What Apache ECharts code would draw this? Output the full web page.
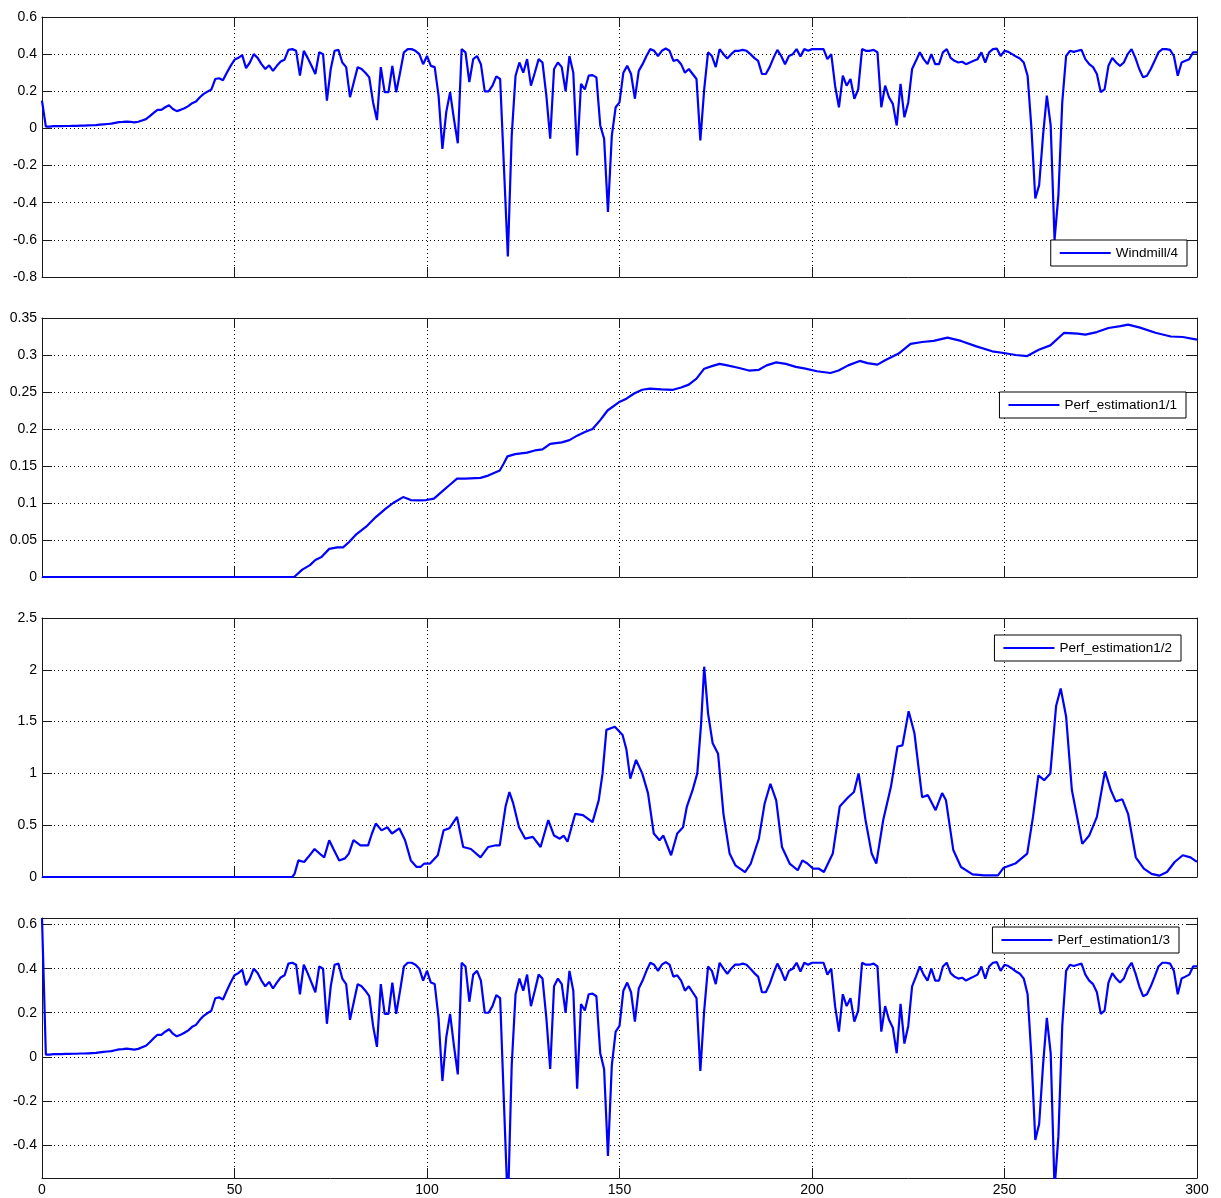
<!DOCTYPE html>
<html>
<head>
<meta charset="utf-8">
<script src="https://cdn.jsdelivr.net/npm/echarts@6/dist/echarts.min.js"></script>
<style>
  html, body { margin: 0; padding: 0; background: #fff; }
  #chart { width: 1221px; height: 1198px; }
</style>
</head>
<body>
<div id="chart"></div>
<script>
// ---------- DATA ----------
// Windmill/4, sampled every 1 s from t = 0 to t = 300
const windmill = [
  0.15,0.01,0.01,0.012,0.012,0.012,0.013,0.013,0.014,0.014,
  0.015,0.015,0.016,0.017,0.018,0.02,0.022,0.024,0.026,0.03,
  0.034,0.035,0.037,0.035,0.033,0.036,0.043,0.05,0.066,0.084,
  0.1,0.1,0.114,0.125,0.105,0.093,0.1,0.109,0.12,0.136,
  0.145,0.168,0.186,0.198,0.21,0.266,0.27,0.26,0.3,0.337,
  0.37,0.38,0.395,0.325,0.355,0.4,0.38,0.346,0.32,0.34,
  0.31,0.337,0.36,0.37,0.423,0.427,0.418,0.284,0.418,0.38,
  0.337,0.293,0.41,0.4,0.15,0.32,0.418,0.423,0.355,0.33,
  0.168,0.25,0.33,0.32,0.3,0.275,0.14,0.045,0.33,0.195,
  0.195,0.337,0.195,0.3,0.41,0.427,0.427,0.418,0.4,0.346,
  0.39,0.337,0.33,0.177,-0.11,0.088,0.195,0.05,-0.08,0.427,
  0.41,0.25,0.373,0.39,0.346,0.2,0.2,0.23,0.28,0.266,
  -0.216,-0.69,-0.04,0.284,0.355,0.3,0.373,0.23,0.3,0.373,
  0.355,0.177,-0.055,0.32,0.355,0.33,0.2,0.39,0.3,-0.145,
  0.24,0.21,0.284,0.287,0.275,0.016,-0.055,-0.45,-0.04,0.114,
  0.14,0.3,0.337,0.293,0.16,0.31,0.346,0.39,0.427,0.418,
  0.39,0.418,0.43,0.418,0.364,0.37,0.346,0.3,0.32,0.293,
  0.266,-0.064,0.21,0.41,0.39,0.33,0.427,0.4,0.377,0.4,
  0.418,0.418,0.423,0.418,0.4,0.38,0.364,0.293,0.293,0.33,
  0.38,0.423,0.39,0.346,0.39,0.4,0.427,0.387,0.427,0.418,
  0.427,0.427,0.427,0.427,0.373,0.4,0.23,0.114,0.284,0.23,
  0.266,0.16,0.21,0.427,0.418,0.418,0.423,0.41,0.114,0.23,
  0.168,0.132,0.016,0.24,0.06,0.14,0.32,0.364,0.41,0.373,
  0.346,0.4,0.346,0.346,0.41,0.427,0.38,0.364,0.355,0.359,
  0.346,0.355,0.364,0.373,0.41,0.355,0.41,0.427,0.43,0.39,
  0.418,0.412,0.4,0.387,0.377,0.355,0.284,0,-0.377,-0.305,
  -0.04,0.177,0.016,-0.6,-0.36,0.14,0.39,0.418,0.412,0.418,
  0.423,0.373,0.346,0.33,0.293,0.195,0.21,0.337,0.38,0.355,
  0.337,0.355,0.4,0.427,0.38,0.32,0.275,0.284,0.32,0.364,
  0.41,0.427,0.427,0.423,0.39,0.284,0.355,0.364,0.373,0.41,
  0.41
];
// Perf_estimation1/3 shows the same signal, except the start value at t = 0
const perf3Start = 0.63;

// Perf_estimation1/1 as [t, value]
const perf1 = [
  [0,0],[65.5,0],[67.6,0.01],[69.6,0.016],[71,0.023],[72.6,0.027],[74.6,0.038],[76.7,0.04],[78.2,0.04],
  [79.7,0.047],[81.7,0.058],[84.2,0.068],[86.7,0.081],[89.2,0.092],[91.2,0.1],[93.8,0.108],[95.8,0.104],
  [97.8,0.1036],[99.8,0.104],[101.8,0.106],[103.8,0.115],[105.8,0.124],[107.8,0.133],[109.9,0.133],
  [113.9,0.134],[115.9,0.137],[118.9,0.144],[119.9,0.153],[120.9,0.163],[122.9,0.166],[126,0.168],
  [128,0.171],[130,0.1725],[132,0.18],[135,0.182],[137,0.185],[139,0.191],[141,0.196],[143,0.2],
  [145,0.212],[146.9,0.225],[149.8,0.236],[151.8,0.241],[153.8,0.248],[155.9,0.253],[157.9,0.2545],
  [160.9,0.2536],[163.9,0.253],[166,0.256],[168,0.26],[170,0.268],[172,0.2815],[174,0.285],[176,0.288],
  [178,0.286],[181.1,0.2824],[183.6,0.279],[186.2,0.28],[188.2,0.286],[190.7,0.29],[193.2,0.288],
  [195.8,0.284],[198.3,0.2815],[201.3,0.278],[204.8,0.2757],[206.9,0.279],[209.4,0.286],[212.4,0.292],
  [214.4,0.289],[217,0.287],[219,0.293],[222.5,0.302],[225.6,0.315],[228.6,0.3176],[231.6,0.319],
  [235.2,0.3234],[238.7,0.319],[242.7,0.3117],[246.8,0.305],[249.8,0.3027],[252.9,0.3],[255.9,0.2986],
  [258.9,0.307],[261.9,0.313],[265.5,0.33],[269,0.329],[271,0.3275],[274,0.331],[277,0.3365],
  [280.1,0.339],[282.1,0.341],[285.2,0.337],[289.2,0.33],[293.2,0.325],[296.3,0.3243],[300,0.3207]
];

// Perf_estimation1/2 as [t, value]
const perf2 = [
  [0,0],[65,0],[65.6,0.03],[66.6,0.16],[68.1,0.145],[69.1,0.19],[70.8,0.27],[72.6,0.21],[73.3,0.19],
  [74.6,0.355],[75.7,0.27],[77.2,0.16],[78.7,0.18],[79.7,0.226],[80.9,0.355],[82.7,0.306],[84.7,0.306],
  [85.7,0.42],[86.7,0.516],[88.2,0.45],[89.7,0.48],[90.9,0.42],[92.8,0.47],[94.3,0.355],[95.8,0.16],
  [97.3,0.097],[98.3,0.097],[99.3,0.13],[100.8,0.13],[102.8,0.21],[104.3,0.45],[105.8,0.47],[107.8,0.58],
  [109.4,0.29],[111.4,0.27],[113.9,0.19],[115.9,0.29],[117.9,0.306],[118.9,0.306],[120.4,0.68],
  [121.4,0.82],[122.4,0.71],[123.9,0.48],[125.5,0.37],[127.5,0.387],[129.5,0.29],[131.5,0.55],[133,0.4],
  [134.5,0.37],[135.5,0.4],[136.5,0.34],[138.5,0.61],[140.5,0.597],[143,0.53],[144.6,0.74],[145.6,1.0],
  [146.6,1.42],[148.8,1.45],[150.8,1.37],[151.8,1.23],[152.8,0.95],[154.3,1.13],[155.9,1.0],[157.4,0.81],
  [158.9,0.42],[160.4,0.355],[161.4,0.4],[163.4,0.21],[165,0.42],[166.5,0.48],[167.5,0.68],[169,0.84],
  [170.2,1.0],[171.2,1.48],[172,2.03],[173,1.58],[174.2,1.29],[175.6,1.19],[177,0.61],[178.6,0.226],
  [180.1,0.113],[182.6,0.048],[184.1,0.13],[186.2,0.37],[187.7,0.71],[189.2,0.9],[190.7,0.74],[192.2,0.29],
  [194.2,0.13],[196.3,0.065],[197.5,0.16],[198.8,0.13],[200.3,0.08],[201.8,0.08],[203.1,0.048],
  [205.4,0.226],[207.2,0.68],[209.4,0.77],[210.9,0.82],[212.1,1.0],[213.9,0.55],[215.5,0.226],[216.7,0.13],
  [218.5,0.55],[220.5,0.87],[222.2,1.26],[223.5,1.27],[225.1,1.6],[226.6,1.39],[228.6,0.77],[230.1,0.79],
  [232.1,0.645],[233.8,0.81],[234.8,0.74],[236.7,0.26],[238.7,0.097],[241.7,0.026],[244.7,0.016],
  [248.3,0.016],[249.8,0.09],[252.8,0.13],[255.9,0.226],[257.4,0.58],[258.8,0.98],[260.3,0.935],
  [261.9,1.0],[263.4,1.65],[264.6,1.82],[266,1.55],[267.5,0.84],[270.2,0.32],[272,0.4],[274,0.58],
  [276.1,1.02],[277.6,0.84],[278.9,0.73],[280.6,0.75],[282.1,0.61],[284.1,0.19],[286.2,0.08],[288.2,0.03],
  [290.2,0.013],[292.2,0.048],[294.2,0.145],[296.3,0.21],[298.3,0.19],[300,0.145]
];

const seriesNames = ['Windmill/4', 'Perf_estimation1/1', 'Perf_estimation1/2', 'Perf_estimation1/3'];
const panel4YTicks = [-0.4, -0.2, 0, 0.2, 0.4, 0.6];

// ---------- BUILD ----------
const windmillPts = windmill.map((v, i) => [i, v]);
const perf3Pts = windmill.map((v, i) => [i, i === 0 ? perf3Start : v]);

const FONT = 'Liberation Sans';
const AX = '#1a1a1a';
const grids = [
  { left: 42, right: 24, top: 17, height: 260 },
  { left: 42, right: 24, top: 318, height: 259 },
  { left: 42, right: 24, top: 618, height: 259 },
  { left: 42, right: 24, top: 918, height: 260 }
];
const yRanges = [
  { min: -0.8, max: 0.6, interval: 0.2 },
  { min: 0, max: 0.35, interval: 0.05 },
  { min: 0, max: 2.5, interval: 0.5 },
  { min: -0.55, max: 0.63, custom: panel4YTicks }
];
const gridLine = { show: true, lineStyle: { color: '#000', width: 1, type: [1, 3] } };

const xAxis = [], yAxis = [];
grids.forEach((g, i) => {
  const isLast = i === grids.length - 1;
  xAxis.push({
    type: 'value', gridIndex: i, min: 0, max: 300, interval: 50, position: 'bottom',
    axisLine: { show: true, onZero: false, lineStyle: { color: AX, width: 1 } },
    axisTick: { show: true, inside: true, length: 10, lineStyle: { color: AX } },
    axisLabel: { show: isLast, color: '#000', fontFamily: FONT, fontSize: 14, margin: 5 },
    splitLine: gridLine
  });
  xAxis.push({
    type: 'value', gridIndex: i, min: 0, max: 300, interval: 50, position: 'top',
    axisLine: { show: true, onZero: false, lineStyle: { color: AX, width: 1 } },
    axisTick: { show: true, inside: true, length: 10, lineStyle: { color: AX } },
    axisLabel: { show: false }, splitLine: { show: false }
  });
  const r = yRanges[i];
  const base = { type: 'value', gridIndex: i, min: r.min, max: r.max };
  if (r.interval) base.interval = r.interval;
  const lab = { color: '#000', fontFamily: FONT, fontSize: 14, margin: 5 };
  const tick = { show: true, inside: true, length: 10, lineStyle: { color: AX } };
  if (r.custom) { lab.customValues = r.custom; tick.customValues = r.custom; }
  yAxis.push(Object.assign({}, base, {
    position: 'left',
    axisLine: { show: true, onZero: false, lineStyle: { color: AX, width: 1 } },
    axisTick: tick, axisLabel: lab, splitLine: gridLine
  }));
  yAxis.push(Object.assign({}, base, {
    position: 'right',
    axisLine: { show: true, onZero: false, lineStyle: { color: AX, width: 1 } },
    axisTick: Object.assign({}, tick), axisLabel: { show: false }, splitLine: { show: false }
  }));
});

const datasets = [windmillPts, perf1, perf2, perf3Pts];
const series = datasets.map((d, i) => ({
  name: seriesNames[i], type: 'line', xAxisIndex: i * 2, yAxisIndex: i * 2,
  data: d, showSymbol: false, symbol: 'none', clip: true,
  lineStyle: { color: '#0000ff', width: 2.2 }, itemStyle: { color: '#0000ff' }
}));

const legendPos = [
  { right: 34, top: 240 },
  { right: 35, top: 392 },
  { right: 40, top: 635 },
  { right: 42, top: 927 }
];
const legend = seriesNames.map((n, i) => Object.assign({
  data: [{ name: n, icon: 'rect', itemStyle: { color: '#0000ff' } }],
  orient: 'horizontal', selectedMode: false,
  backgroundColor: '#fff', borderColor: '#000', borderWidth: 1, borderRadius: 0,
  padding: [5, 9, 5, 9], itemWidth: 51, itemHeight: 2, itemGap: 0,
  textStyle: { color: '#000', fontFamily: FONT, fontSize: 13.5, lineHeight: 16 }
}, legendPos[i]));

const chart = echarts.init(document.getElementById('chart'), null, { renderer: 'canvas' });
chart.setOption({
  animation: false,
  backgroundColor: '#fff',
  grid: grids,
  xAxis: xAxis,
  yAxis: yAxis,
  legend: legend,
  series: series
});
</script>
</body>
</html>
